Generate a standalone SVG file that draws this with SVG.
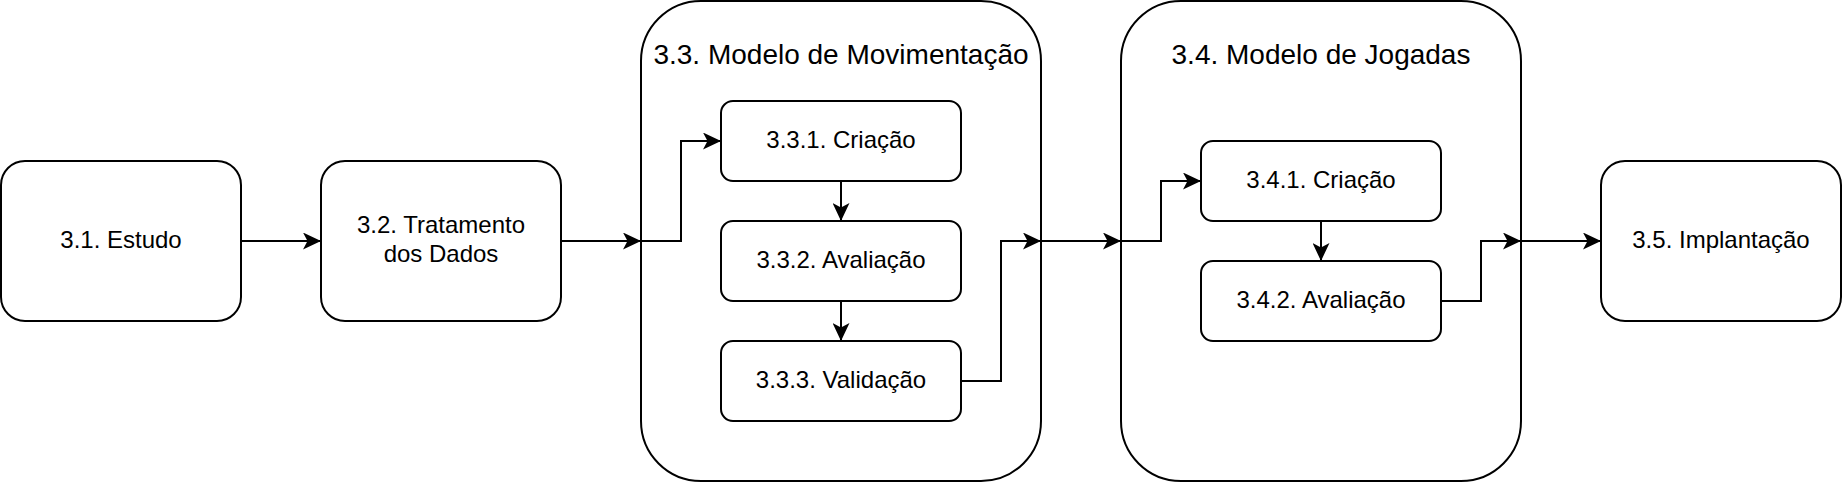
<svg xmlns="http://www.w3.org/2000/svg" width="1842" height="482" viewBox="0 0 1842 482">
  <style>
    .box { fill: #ffffff; stroke: #000000; stroke-width: 2; }
    .lbl { font-family: "Liberation Sans", Arial, sans-serif; font-size: 24px; fill: #000000; text-anchor: middle; }
    .ttl { font-family: "Liberation Sans", Arial, sans-serif; font-size: 28px; fill: #000000; text-anchor: middle; }
    .edge { fill: none; stroke: #000000; stroke-width: 2; marker-end: url(#arrow); }
  </style>
  <defs>
    <marker id="arrow" viewBox="0 0 18 17" refX="18" refY="8.5" markerWidth="18" markerHeight="17" markerUnits="userSpaceOnUse" orient="auto">
      <path d="M0,0 L18,8.5 L0,17 L4.5,8.5 Z" fill="#000000"/>
    </marker>
  </defs>
  <rect width="1842" height="482" fill="#ffffff"/>

  <g id="n31">
    <rect class="box" x="1" y="161" width="240" height="160" rx="24" ry="24"/>
    <text class="lbl" x="121" y="247.5">3.1. Estudo</text>
  </g>
  <g id="n32">
    <rect class="box" x="321" y="161" width="240" height="160" rx="24" ry="24"/>
    <text class="lbl" x="441" y="233.2">3.2. Tratamento</text>
    <text class="lbl" x="441" y="262">dos Dados</text>
  </g>
  <g id="n33">
    <rect class="box" x="641" y="1" width="400" height="480" rx="60" ry="60"/>
    <text class="ttl" x="841" y="64">3.3. Modelo de Movimentação</text>
  </g>
  <g id="n331">
    <rect class="box" x="721" y="101" width="240" height="80" rx="12" ry="12"/>
    <text class="lbl" x="841" y="147.5">3.3.1. Criação</text>
  </g>
  <g id="n332">
    <rect class="box" x="721" y="221" width="240" height="80" rx="12" ry="12"/>
    <text class="lbl" x="841" y="267.5">3.3.2. Avaliação</text>
  </g>
  <g id="n333">
    <rect class="box" x="721" y="341" width="240" height="80" rx="12" ry="12"/>
    <text class="lbl" x="841" y="387.5">3.3.3. Validação</text>
  </g>
  <g id="n34">
    <rect class="box" x="1121" y="1" width="400" height="480" rx="60" ry="60"/>
    <text class="ttl" x="1321" y="64">3.4. Modelo de Jogadas</text>
  </g>
  <g id="n341">
    <rect class="box" x="1201" y="141" width="240" height="80" rx="12" ry="12"/>
    <text class="lbl" x="1321" y="187.5">3.4.1. Criação</text>
  </g>
  <g id="n342">
    <rect class="box" x="1201" y="261" width="240" height="80" rx="12" ry="12"/>
    <text class="lbl" x="1321" y="307.5">3.4.2. Avaliação</text>
  </g>
  <g id="n35">
    <rect class="box" x="1601" y="161" width="240" height="160" rx="24" ry="24"/>
    <text class="lbl" x="1721" y="247.5">3.5. Implantação</text>
  </g>

  <g id="connectors">
    <path class="edge" d="M241,241 H321"/>
    <path class="edge" d="M561,241 H641"/>
    <path class="edge" d="M641,241 H681 V141 H721"/>
    <path class="edge" d="M841,181 V221"/>
    <path class="edge" d="M841,301 V341"/>
    <path class="edge" d="M961,381 H1001 V241 H1041"/>
    <path class="edge" d="M1041,241 H1121"/>
    <path class="edge" d="M1121,241 H1161 V181 H1201"/>
    <path class="edge" d="M1321,221 V261"/>
    <path class="edge" d="M1441,301 H1481 V241 H1521"/>
    <path class="edge" d="M1521,241 H1601"/>
  </g>
</svg>
